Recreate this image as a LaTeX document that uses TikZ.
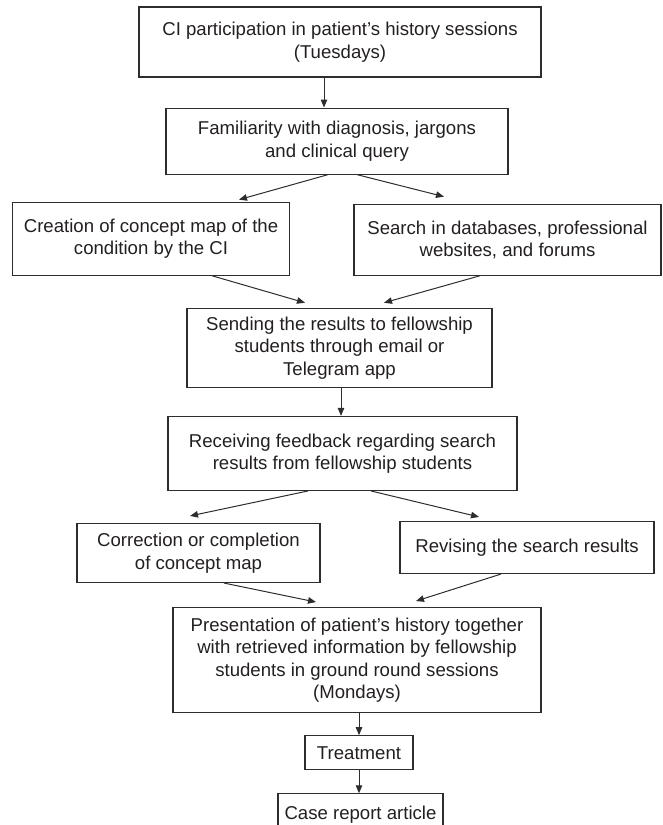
\documentclass[tikz,border=0pt]{standalone}
\usepackage{fontspec}
\setmainfont{Liberation Sans}
\usetikzlibrary{positioning,arrows.meta}
\definecolor{FlowInk}{RGB}{35,31,32}
\definecolor{FlowLine}{RGB}{45,45,45}
\tikzset{
  flow box/.style={
    draw=FlowLine,
    line width=1.1pt,
    align=center,
    text=FlowInk,
    font=\fontsize{18.6}{22.4}\selectfont,
    inner sep=4pt
  },
  flow arrow/.style={-{Triangle[length=8pt,width=6.5pt]}, line width=1pt, FlowLine}
}
\begin{document}
\begin{tikzpicture}[x=1pt,y=1pt]
\useasboundingbox (0,0) rectangle (662,-825);
\node[flow box, minimum width=402pt, minimum height=70pt] (ci) at (340,-42) {CI participation in patient’s history sessions\\(Tuesdays)};
\node[flow box, below=30pt of ci, xshift=-3pt, minimum width=342pt, minimum height=66pt] (famil) {Familiarity with diagnosis, jargons\\and clinical query};
\node[flow box, below=27pt of famil, xshift=-186pt, minimum width=277pt, minimum height=73pt] (concept) {Creation of concept map of the\\condition by the CI};
\node[flow box, below=29pt of famil, xshift=170.5pt, minimum width=307pt, minimum height=71pt] (search) {Search in databases, professional\\websites, and forums};
\node[flow box, below=32pt of concept, xshift=188.5pt, minimum width=305pt, minimum height=79pt] (sendres) {Sending the results to fellowship\\students through email or\\Telegram app};
\node[flow box, below=28pt of sendres, xshift=3pt, minimum width=349pt, minimum height=74pt] (feedback) {Receiving feedback regarding search\\results from fellowship students};
\node[flow box, below=32pt of feedback, xshift=-144pt, minimum width=243pt, minimum height=59pt] (correct) {Correction or completion\\of concept map};
\node[flow box, below=30pt of feedback, xshift=184.5pt, minimum width=254pt, minimum height=52pt] (revise) {Revising the search results};
\node[flow box, below=24pt of correct, xshift=158.5pt, minimum width=368pt, minimum height=105pt] (present) {Presentation of patient’s history together\\with retrieved information by fellowship\\students in ground round sessions\\(Mondays)};
\node[flow box, below=22pt of present, xshift=2pt, minimum width=108pt, minimum height=34pt] (treat) {Treatment};
\node[flow box, below=23pt of treat, xshift=1.5pt, minimum width=165pt, minimum height=42pt] (report) {Case report article};
\draw[flow arrow] ([xshift=-16pt]ci.south)--([xshift=-13pt]famil.north);
\draw[flow arrow] ([xshift=-9pt]famil.south)--([xshift=88pt,yshift=2pt]concept.north);
\draw[flow arrow] ([xshift=20pt]famil.south)--([xshift=-63.5pt,yshift=7pt]search.north);
\draw[flow arrow] ([xshift=61pt]concept.south)--([xshift=-34.5pt,yshift=5pt]sendres.north);
\draw[flow arrow] ([xshift=-27.5pt]search.south)--([xshift=44.5pt,yshift=5pt]sendres.north);
\draw[flow arrow] ([xshift=1.5pt]sendres.south)--([xshift=-1.5pt]feedback.north);
\draw[flow arrow] ([xshift=-34.5pt]feedback.south)--([xshift=-8.5pt,yshift=7pt]correct.north);
\draw[flow arrow] ([xshift=28.5pt]feedback.south)--([xshift=-48pt,yshift=4pt]revise.north);
\draw[flow arrow] ([xshift=25.5pt]correct.south)--([xshift=-41pt,yshift=5pt]present.north);
\draw[flow arrow] ([xshift=-26pt]revise.south)--([xshift=59pt,yshift=6pt]present.north);
\draw[flow arrow] (present.south -| treat)--(treat.north);
\draw[flow arrow] (treat.south)--(treat.south |- report.north);
\end{tikzpicture}
\end{document}
